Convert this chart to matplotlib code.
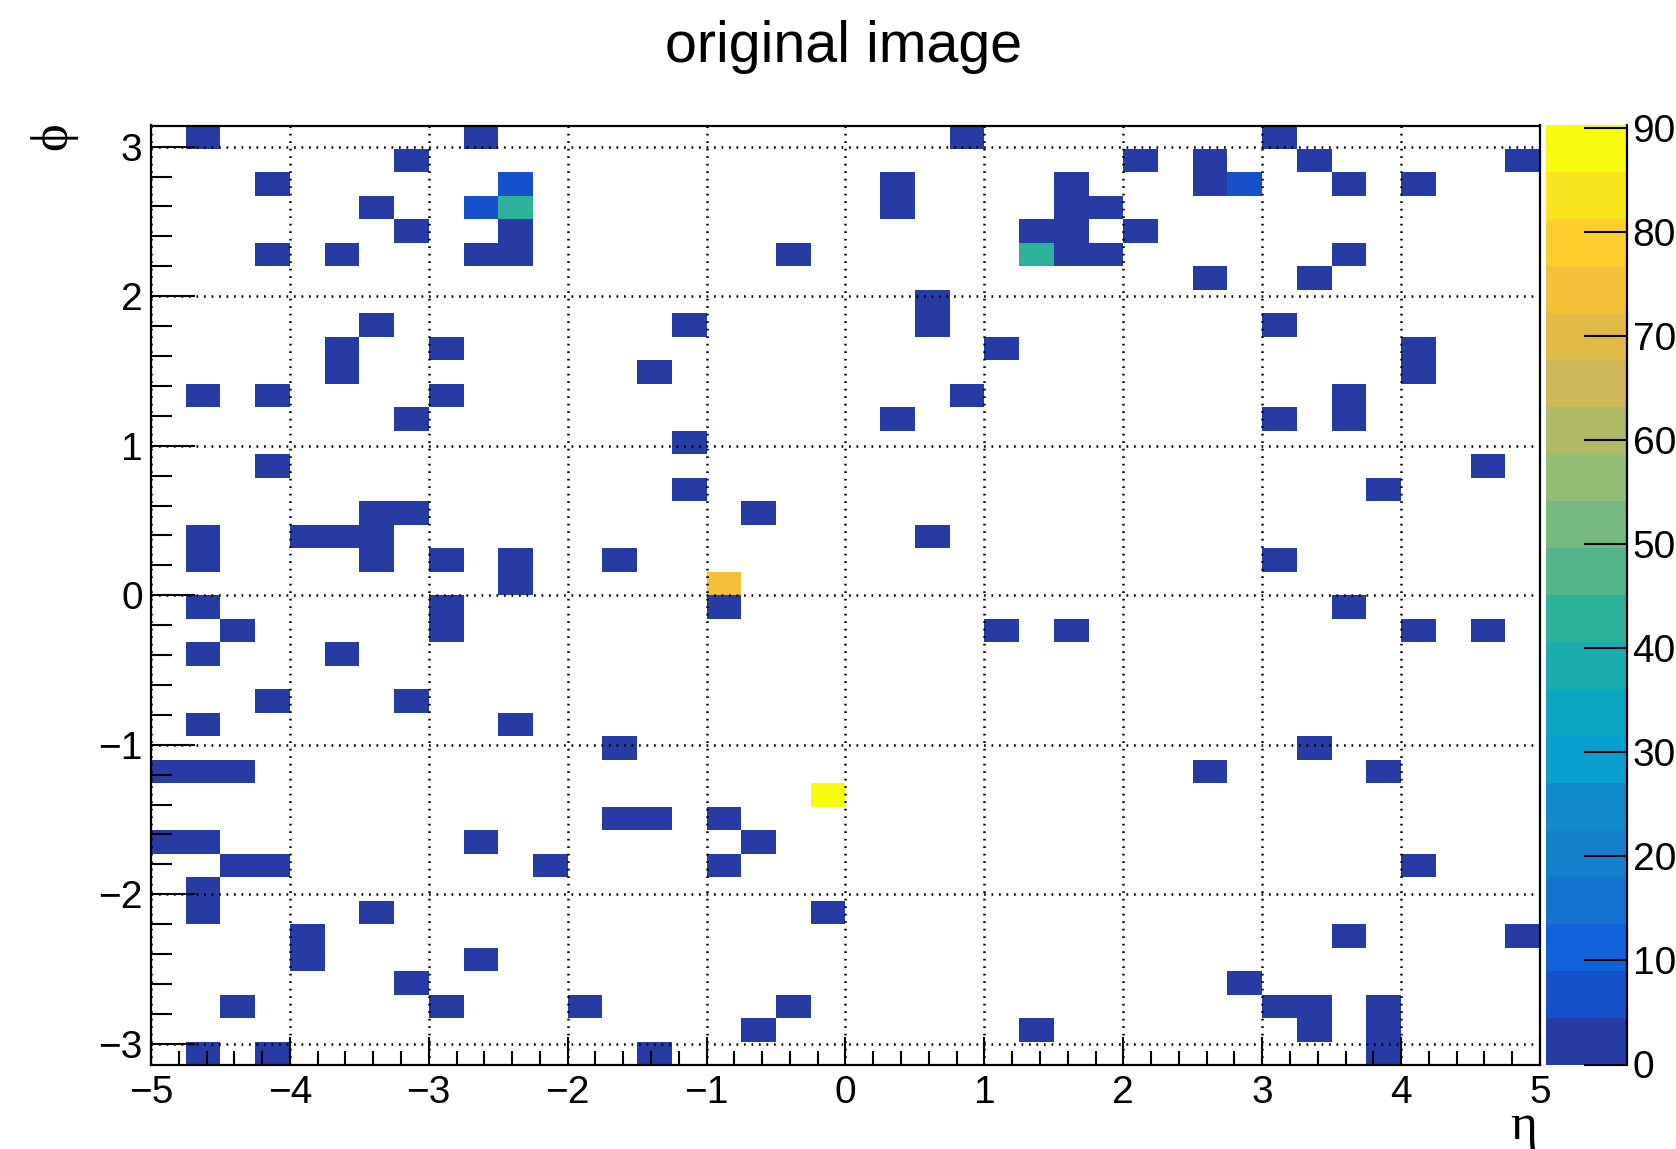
import numpy as np
import matplotlib
matplotlib.use('Agg')
import matplotlib.pyplot as plt
from matplotlib.colors import ListedColormap, BoundaryNorm

plt.rcParams['font.family'] = ['Liberation Sans', 'DejaVu Sans']

W, H = 1676, 1149

eta_edges = np.linspace(-5, 5, 41)
phi_edges = np.linspace(-3.1416, 3.1416, 41)

# columns (eta bin) holding a low hit, one list per phi bin, from phi bin 39 down to 0
low_hits = [
    [1, 9, 23, 32],
    [7, 28, 30, 33, 39],
    [3, 21, 26, 30, 34, 36],
    [6, 21, 26, 27],
    [7, 10, 25, 26, 28],
    [3, 5, 9, 10, 18, 26, 27, 34],
    [30, 33],
    [22],
    [6, 15, 22, 32],
    [5, 8, 24, 36],
    [5, 14, 36],
    [1, 3, 8, 23, 34],
    [7, 21, 32, 34],
    [15],
    [3, 38],
    [15, 35],
    [6, 7, 17],
    [1, 4, 5, 6, 22],
    [1, 6, 8, 10, 13, 32],
    [10],
    [1, 8, 16, 34],
    [2, 8, 24, 26, 36, 38],
    [1, 5],
    [],
    [3, 7],
    [1, 10],
    [13, 33],
    [0, 1, 2, 30, 35],
    [],
    [13, 14, 16],
    [0, 1, 9, 17],
    [2, 3, 11, 16, 36],
    [1],
    [1, 6, 19],
    [4, 34, 39],
    [4, 9],
    [7, 31],
    [2, 8, 12, 18, 32, 33, 35],
    [17, 25, 33, 35],
    [1, 3, 14, 35],
]
low_value = 2.0

# the few cells above the first colour band
strong_eta_bin = [10, 31, 9, 10, 25, 16, 19]
strong_phi_bin = [37, 37, 36, 36, 34, 20, 11]
strong_value = [6.5, 6.5, 6.5, 43.0, 43.0, 74.0, 90.3]

palette = ['#273BA5', '#1551C8', '#1062DA', '#1372D2', '#1480CC', '#118ACC', '#0A9ECF',
           '#0CA6C0', '#1AACB0', '#2CB29B', '#54B58A', '#74B97E', '#92BD74', '#B0BA66',
           '#CFB85A', '#E0BB45', '#F3C238', '#FECF2C', '#F8E51D', '#F9FB0E']
z_max = 90.3
color_ticks = [0, 10, 20, 30, 40, 50, 60, 70, 80, 90]

z = np.full((40, 40), np.nan)
for i, cols in enumerate(low_hits):
    z[39 - i, cols] = low_value
z[strong_phi_bin, strong_eta_bin] = strong_value

cmap = ListedColormap(palette)
norm = BoundaryNorm(np.linspace(0, z_max, 21), cmap.N)

fig = plt.figure(figsize=(W / 100., H / 100.), dpi=100)
ax = fig.add_axes([151. / W, 1 - 1065. / H, 1389. / W, 939.5 / H])
cax = fig.add_axes([1546. / W, 1 - 1064.5 / H, 81. / W, 939.5 / H])

mesh = ax.pcolormesh(eta_edges, phi_edges, np.ma.masked_invalid(z), cmap=cmap, norm=norm)
ax.set_xlim(-5, 5)
ax.set_ylim(-3.1416, 3.1416)

# ticks point inwards, bottom and left only
ax.set_xticks(np.arange(-5, 6))
ax.set_yticks(np.arange(-3, 4))
ax.set_xticks(np.arange(-5, 5.01, 0.2), minor=True)
ax.set_yticks(np.arange(-3, 3.01, 0.2), minor=True)
ax.tick_params(axis='x', which='major', direction='in', length=20, width=1.5, labelsize=28, pad=7)
ax.tick_params(axis='x', which='minor', direction='in', length=10, width=1.5)
ax.tick_params(axis='y', which='major', direction='in', length=32, width=1.5, labelsize=28, pad=6)
ax.tick_params(axis='y', which='minor', direction='in', length=15, width=1.5)
ax.grid(True, which='major', color='k', linewidth=1.8, linestyle=(0, (0.7, 2.3)), zorder=5)
ax.set_axisbelow(False)
for s in ax.spines.values():
    s.set_linewidth(1.6)

cb = fig.colorbar(mesh, cax=cax, spacing='proportional', drawedges=False)
cb.set_ticks(color_ticks)
cb.outline.set_visible(False)
cax.minorticks_off()
cax.tick_params(axis='y', which='major', direction='in', length=31, width=1.5, labelsize=28, pad=4)
cax.spines['right'].set_visible(True)
cax.spines['right'].set_linewidth(1.6)

fig.text(844. / W, 1 - 47. / H, 'original image', fontsize=41.3, ha='center', va='center')
fig.text(1537. / W, 1 - 1127. / H, '\u03b7', fontsize=37, ha='right', va='center',
         family=['Liberation Serif', 'DejaVu Serif'])
fig.text(53. / W, 1 - 136. / H, '\u03d5', fontsize=38, ha='center', va='center', rotation=90,
         family=['Liberation Serif', 'DejaVu Serif'])

fig.savefig('out.png', dpi=100)
